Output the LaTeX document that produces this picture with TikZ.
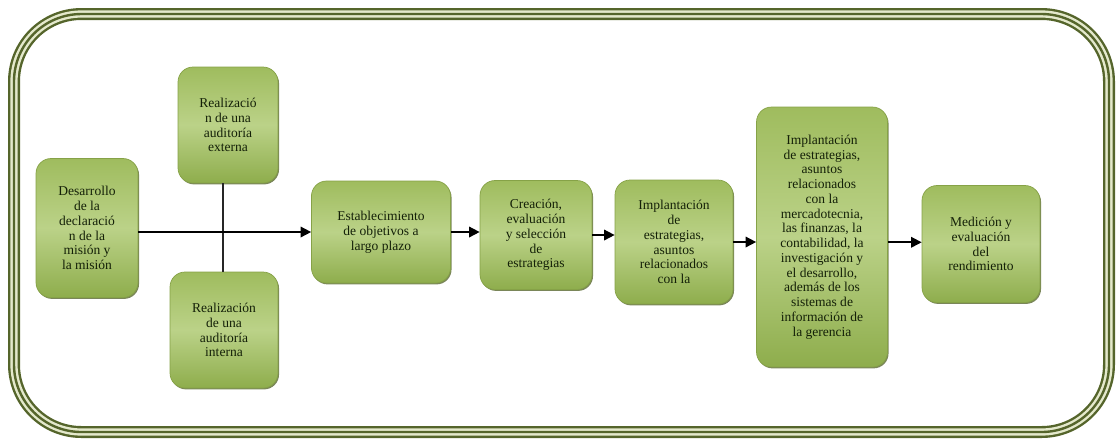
\documentclass[tikz,border=0pt]{standalone}
\usepackage{fontspec}
\setmainfont{Liberation Serif}
\usetikzlibrary{arrows.meta,shadows}

\definecolor{framedark}{HTML}{55652B}
\definecolor{framelight}{HTML}{E4E9CC}
\definecolor{boxtop}{HTML}{9FBC5E}
\definecolor{boxmid}{HTML}{BBD288}
\definecolor{boxbot}{HTML}{8EAD4C}
\definecolor{boxline}{HTML}{86A247}
\definecolor{boxshadow}{HTML}{4E5E22}
\definecolor{boxtext}{HTML}{142008}

\begin{document}
\begin{tikzpicture}[x=0.02cm, y=-0.02cm, >={Triangle[length=6pt, width=6pt]},
    stagebox/.style={draw=boxline, line width=0.4pt, rounded corners=0.3cm,
        top color=boxtop, bottom color=boxbot, middle color=boxmid,
        drop shadow={shadow xshift=0.6pt, shadow yshift=-0.8pt, fill=boxshadow, opacity=0.75},
        align=center, text=boxtext, inner sep=1pt,
        font=\fontsize{7.7}{8.4}\selectfont},
    flow/.style={->, line width=0.9pt, black},
    tie/.style={line width=0.8pt, black!85}]

    % Frame
    \useasboundingbox (0,0) rectangle (1116,441);
    \foreach \w/\c in {12/framedark, 7.2/framelight, 2.4/framedark}
        \draw[line width=\w*0.02cm, \c, rounded corners=1.35cm] (14,14) rectangle (1109,432);

    % Nodes
    \node[stagebox, minimum width=2.04cm, minimum height=2.78cm] (mision) at (87,228)
        {Desarrollo\\de la\\declaració\\n de la\\misión y\\la misión};
    \node[stagebox, minimum width=2cm, minimum height=2.32cm] (externa) at (228,125)
        {Realizació\\n de una\\auditoría\\externa};
    \node[stagebox, minimum width=2.16cm, minimum height=2.32cm] (interna) at (224,330)
        {Realización\\de una\\auditoría\\interna};
    \node[stagebox, minimum width=2.78cm, minimum height=2.04cm] (objetivos) at (381,232)
        {Establecimiento\\de objetivos a\\largo plazo};
    \node[stagebox, minimum width=2.24cm, minimum height=2.18cm] (seleccion) at (536,235)
        {Creación,\\evaluación\\y selección\\de\\estrategias};
    \node[stagebox, minimum width=2.36cm, minimum height=2.48cm] (implantacion) at (674,242)
        {Implantación\\de\\estrategias,\\asuntos\\relacionados\\con la};
    \node[stagebox, minimum width=2.62cm, minimum height=5.2cm] (gerencia) at (822,237)
        {Implantación\\de estrategias,\\asuntos\\relacionados\\con la\\mercadotecnia,\\las finanzas, la\\contabilidad, la\\investigación y\\el desarrollo,\\además de los\\sistemas de\\información de\\la gerencia};
    \node[stagebox, minimum width=2.36cm, minimum height=2.34cm] (medicion) at (981,244)
        {Medición y\\evaluación\\del\\rendimiento};

    % Connectors
    \coordinate (cruce) at (223,233);
    \draw[tie] (cruce |- externa.south) -- (cruce |- interna.north);
    \draw[flow] (mision.east |- objetivos.west) -- (objetivos.west);
    \draw[flow] (objetivos.east) -- (objetivos.east -| seleccion.west);
    \draw[flow] (seleccion.east) -- (seleccion.east -| implantacion.west);
    \draw[flow] (implantacion.east) -- (implantacion.east -| gerencia.west);
    \draw[flow] ([yshift=-3pt]gerencia.east) -- ([yshift=-3pt]gerencia.east -| medicion.west);

\end{tikzpicture}
\end{document}
